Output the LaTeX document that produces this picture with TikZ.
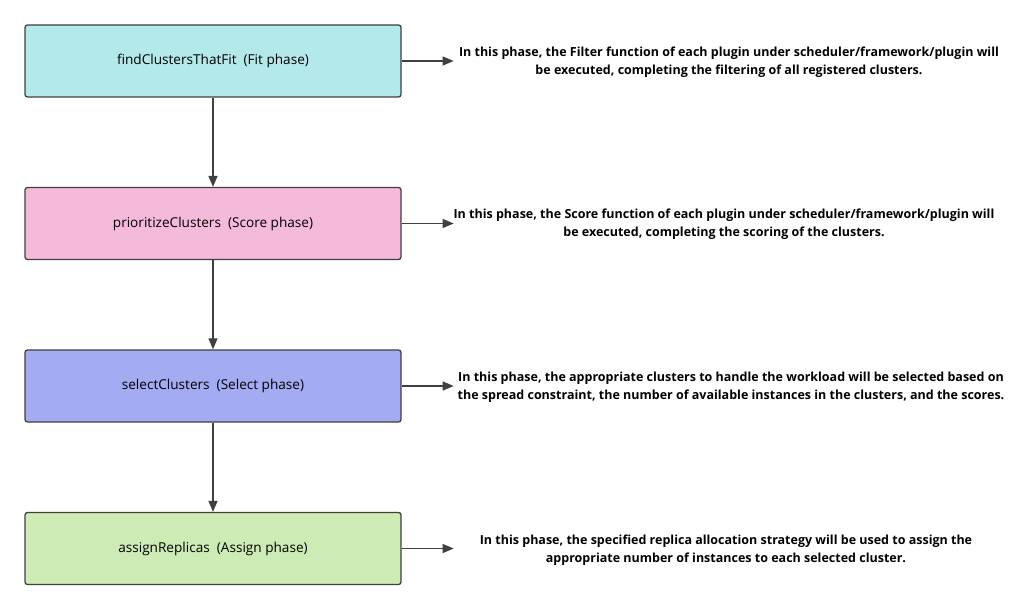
\documentclass[tikz,border=0pt]{standalone}
\usepackage{fontspec}
\setmainfont{Open Sans}
\usetikzlibrary{arrows.meta}
\definecolor{fitcol}{HTML}{B3E9EA}
\definecolor{scorecol}{HTML}{F5B9DA}
\definecolor{selectcol}{HTML}{A3ABF2}
\definecolor{assigncol}{HTML}{CCEBB5}
\definecolor{edgecol}{HTML}{404040}
\begin{document}
\begin{tikzpicture}[
  x=1pt, y=1pt,
  phase_box/.style={rectangle, rounded corners=2.5pt, draw=edgecol, line width=1.3pt, minimum width=376pt, minimum height=72pt, inner sep=0pt, font=\fontsize{13.6}{16}\selectfont},
  phase_note/.style={align=center, inner sep=0pt, font=\fontsize{12.5}{18}\selectfont\bfseries},
  flow/.style={draw=edgecol, line width=1.3pt, -{Triangle[length=11pt, width=9pt]}},
]
\useasboundingbox (0,0) rectangle (1025,-609);
\draw (213,-61) node (fit) [phase_box, fill=fitcol] {findClustersThatFit~~(Fit phase)};
\draw (213,-223.5) node (score) [phase_box, fill=scorecol] {prioritizeClusters~~(Score phase)};
\draw (213,-386) node (select) [phase_box, fill=selectcol] {selectClusters~~(Select phase)};
\draw (213,-548.5) node (assign) [phase_box, fill=assigncol] {assignReplicas~~(Assign phase)};
\draw (729,-62) node (fitnote) [phase_note] {In this phase, the Filter function of each plugin under scheduler/framework/plugin will\\ be executed, completing the filtering of all registered clusters.};
\draw (724,-224) node (scorenote) [phase_note] {In this phase, the Score function of each plugin under scheduler/framework/plugin will\\ be executed, completing the scoring of the clusters.};
\draw (731,-387) node (selectnote) [phase_note] {In this phase, the appropriate clusters to handle the workload will be selected based on\\ the spread constraint, the number of available instances in the clusters, and the scores.};
\draw (726,-550) node (assignnote) [phase_note] {In this phase, the specified replica allocation strategy will be used to assign the\\ appropriate number of instances to each selected cluster.};
\draw [flow] (fit) -- (score);
\draw [flow] (score) -- (select);
\draw [flow] (select) -- (assign);
\draw [flow] (fit.east) -- ++(52,0);
\draw [flow] (score.east) -- ++(52,0);
\draw [flow] (select.east) -- ++(52,0);
\draw [flow] (assign.east) -- ++(52,0);
\end{tikzpicture}
\end{document}
